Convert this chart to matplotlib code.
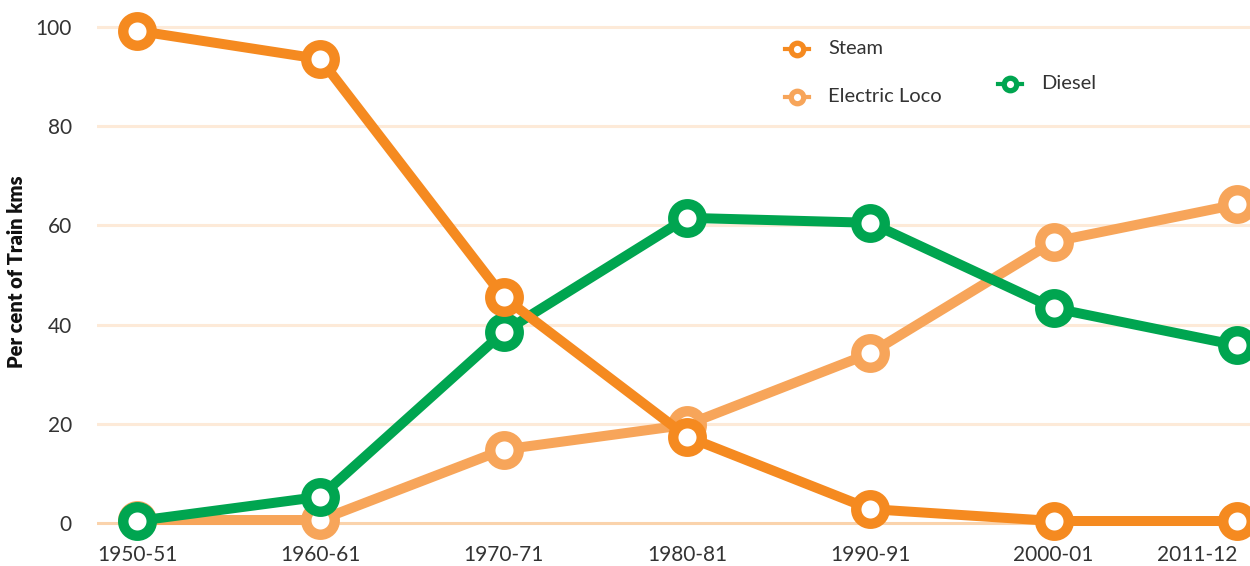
import matplotlib.pyplot as plt
from matplotlib.lines import Line2D

years = ["1950-51", "1960-61", "1970-71", "1980-81", "1990-91", "2000-01", "2011-12"]
steam = [99.2, 93.5, 45.5, 17.4, 2.8, 0.4, 0.4]
electric = [0.6, 0.6, 14.8, 19.8, 34.2, 56.7, 64.2]
diesel = [0.4, 5.3, 38.5, 61.5, 60.5, 43.3, 35.8]

c_steam = "#F58A20"
c_elec = "#F7A55A"
c_diesel = "#00A550"
txt = "#333333"

plt.rcParams['font.family'] = ['Lato', 'DejaVu Sans']

fig = plt.figure(figsize=(12.5, 5.66), dpi=100)
ax = fig.add_axes([97 / 1250, 1 - 535 / 566, 1 - 97 / 1250, 535 / 566])

x = list(range(len(years)))
for yv in [20, 40, 60, 80, 100]:
    ax.axhline(yv, color="#FDEAD8", lw=2.2, zorder=0)
ax.axhline(0, color="#FAD3AC", lw=2.2, zorder=0)

mk = dict(marker="o", markersize=20.5, markerfacecolor="white", markeredgewidth=7.5,
          lw=7.2, clip_on=False, solid_capstyle="butt")
ax.plot(x, electric, color=c_elec, markeredgecolor=c_elec, zorder=3, **mk)
ax.plot(x, diesel, color=c_diesel, markeredgecolor=c_diesel, zorder=4, **mk)
ax.plot(x, steam, color=c_steam, markeredgecolor=c_steam, zorder=5, **mk)

ax.set_xlim(-40 / 183.3, 6 + 13 / 183.3)
ax.set_ylim(-2.42, 105.4)
ax.set_yticks([0, 20, 40, 60, 80, 100])
ax.set_xticks(x)
ax.set_xticklabels(years)
ax.tick_params(axis="both", length=0, labelsize=15, labelcolor=txt)
ax.tick_params(axis="y", pad=18)
ax.tick_params(axis="x", pad=7)
ax.get_xticklabels()[-1].set_horizontalalignment("right")
for s in ax.spines.values():
    s.set_visible(False)

fig.text(17 / 1250, 1 - 272 / 566, "Per cent of Train kms", rotation=90, fontsize=14.5,
         fontweight="heavy", color="#111111", ha="center", va="center")

# legend
leg = [("Steam", c_steam, 797, 49), ("Electric Loco", c_elec, 797, 97), ("Diesel", c_diesel, 1010, 84)]
for name, col, px, py in leg:
    fx, fy = px / 1250, 1 - py / 566
    fig.add_artist(Line2D([fx - 12 / 1250, fx + 12 / 1250], [fy, fy], color=col, lw=3,
                          transform=fig.transFigure))
    fig.add_artist(Line2D([fx], [fy], marker="o", markersize=9, markerfacecolor="white",
                          markeredgecolor=col, markeredgewidth=3.8, transform=fig.transFigure))
    fig.text(fx + 31 / 1250, fy, name, fontsize=14.5, color=txt, va="center", ha="left")

fig.savefig("out.png", dpi=100)
